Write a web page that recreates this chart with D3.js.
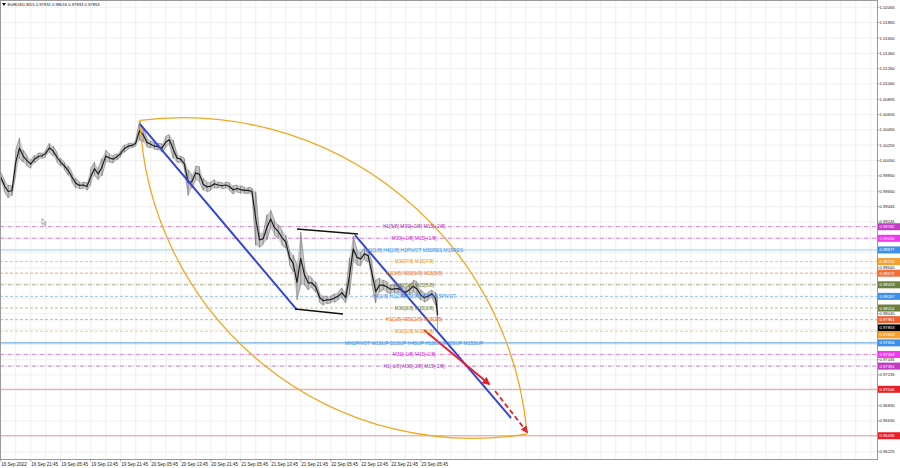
<!DOCTYPE html>
<html><head><meta charset="utf-8">
<script src="https://cdn.jsdelivr.net/npm/d3@7"></script>
<style>body{margin:0;background:#fff}svg{display:block}text{font-family:"Liberation Sans",Arial,sans-serif}</style>
</head><body><svg id="c" width="900" height="468"></svg>
<script>
// ---------- DATA ----------
const title = "EURUSD,M15  0.97931 0.98016 0.97833 0.97853";
const timeLabels = ["16 Sep 2022","16 Sep 21:45","19 Sep 05:45","19 Sep 13:45","19 Sep 21:45","20 Sep 05:45","20 Sep 13:45","20 Sep 21:45","21 Sep 05:45","21 Sep 13:45","21 Sep 21:45","22 Sep 05:45","22 Sep 13:45","22 Sep 21:45","23 Sep 05:45"];
const timeLabelBars = [0,32,64,96,128,160,192,224,256,288,320,352,384,416,448];
const priceTicks = [1.02065,1.01865,1.01660,1.01460,1.01260,1.01060,1.00855,1.00655,1.00455,1.00255,1.00050,0.99850,0.99650,0.99445,0.99245,0.99045,0.98845,0.98640,0.98440,0.98240,0.98040,0.97835,0.97635,0.97435,0.97235,0.97030,0.96830,0.96630,0.96430,0.96225];
const barIdx = d3.range(0, 465, 4).concat([466]);
const highs = [0.9990,0.9980,0.9973,0.9972,1.0019,1.0035,1.0019,1.0012,1.0006,1.0012,
 1.0015,1.0015,1.0019,1.0028,1.0024,1.0016,1.0008,1.0003,0.9998,0.9990,
 0.9982,0.9977,0.9977,0.9976,0.9995,1.0003,0.9995,1.0008,1.0019,1.0014,
 1.0012,1.0014,1.0019,1.0026,1.0028,1.0028,1.0032,1.0057,1.0048,1.0035,
 1.0031,1.0028,1.0028,1.0027,1.0037,1.0039,1.0032,1.0014,1.0011,1.0008,
 0.9993,0.9986,0.9998,0.9997,0.9982,0.9977,0.9977,0.9980,0.9977,0.9976,
 0.9977,0.9976,0.9972,0.9973,0.9972,0.9970,0.9970,0.9969,0.9964,0.9911,
 0.9910,0.9934,0.9940,0.9927,0.9921,0.9914,0.9907,0.9888,0.9881,0.9868,
 0.9911,0.9868,0.9854,0.9851,0.9846,0.9832,0.9827,0.9827,0.9827,0.9830,
 0.9832,0.9838,0.9832,0.9877,0.9906,0.9888,0.9885,0.9890,0.9888,0.9872,
 0.9848,0.9851,0.9848,0.9846,0.9842,0.9842,0.9843,0.9841,0.9838,0.9842,
 0.9848,0.9846,0.9835,0.9831,0.9832,0.9835,0.9832,0.9822];
const lows = [0.9977,0.9964,0.9956,0.9959,0.9986,1.0008,1.0003,0.9998,0.9995,1.0002,
 1.0006,1.0008,1.0010,1.0016,1.0011,1.0003,0.9998,0.9993,0.9986,0.9977,
 0.9969,0.9968,0.9969,0.9966,0.9973,0.9986,0.9980,0.9985,1.0003,1.0003,
 1.0002,1.0006,1.0010,1.0016,1.0020,1.0022,1.0024,1.0032,1.0030,1.0023,
 1.0022,1.0020,1.0019,1.0016,1.0022,1.0026,1.0008,1.0003,1.0003,0.9993,
 0.9959,0.9969,0.9980,0.9977,0.9966,0.9964,0.9966,0.9969,0.9969,0.9968,
 0.9969,0.9966,0.9961,0.9964,0.9962,0.9962,0.9962,0.9960,0.9894,0.9891,
 0.9895,0.9901,0.9917,0.9907,0.9903,0.9894,0.9890,0.9868,0.9859,0.9822,
 0.9842,0.9842,0.9835,0.9838,0.9832,0.9819,0.9815,0.9817,0.9818,0.9819,
 0.9822,0.9825,0.9818,0.9829,0.9872,0.9868,0.9867,0.9875,0.9872,0.9842,
 0.9818,0.9832,0.9835,0.9832,0.9830,0.9831,0.9831,0.9827,0.9826,0.9829,
 0.9832,0.9827,0.9822,0.9819,0.9822,0.9825,0.9815,0.9782];
const lastPrice = 0.97853;

const levelPrices = [0.99182,0.99030,0.98877,0.98724,0.98572,0.98419,0.98267,0.98114,0.97961,0.97809,0.97656,0.97504,0.97351];
const levelKinds  = ["p2","p1","res","o7","o6","g5","piv","g3","o2","o1","sup","m1","m2"];
const levelTexts  = ["H1[5/8] M30[+2/8] M15[+2/8]","M30[+1/8] M15[+1/8]","W1[1/8] H4[2/8] H1PIVOT M30RES M15RES","M30[7/8] M15[7/8]","H1[3/8] M30[6/8] M15[6/8]","M30[5/8] M15[5/8]","H4[1/8] H1[2/8] M30PIVOT M15PIVOT","M30[3/8] M15[3/8]","H1[1/8] M30[2/8] M15[2/8]","M30[1/8] M15[1/8]","MN1PIVOT W1SUP D1SUP H4SUP H1SUP M30SUP M15SUP","M30[-1/8] M15[-1/8]","H1[-1/8] M30[-2/8] M15[-2/8]"];
const textBar = 441;
const redLevels = [0.97046, 0.96436];

// drawn objects: [bar, price] pairs
const arcStart = [148.6, 1.0058], arcEnd = [561.4, 0.9646];
const blueLine1 = [[148.6, 1.0053],[316, 0.9809]];
const blueLine2 = [[377.9, 0.99073],[544.3, 0.96669]];
const blackUpper = [[316, 0.99152],[381.1, 0.99086]];
const blackLower = [[313.9, 0.98101],[365.1, 0.98035]];
const redSolid = [[451.5, 0.97825],[520.9, 0.97115]];
const redDashed = [[527.3, 0.97023],[561.4, 0.96485]];
const cursorAt = [44.0, 0.9929];

// ---------- STYLES ----------
const kindStyle = {
  p2:{line:"#c070c0",box:"#c03cc0",text:"#a83ca8",dash:"4,1.5,1,1.5"},
  p1:{line:"#e070e0",box:"#ec3cec",text:"#d030d0",dash:"4,1.5,1,1.5"},
  res:{line:"#8cc8ec",box:"#3d8fe8",text:"#3d8fe8",dash:null},
  o7:{line:"#f2c070",box:"#f5a030",text:"#e8a030",dash:"3,2"},
  o6:{line:"#f09a70",box:"#f07038",text:"#e87038",dash:"3,2"},
  g5:{line:"#98a878",box:"#6b7f3e",text:"#6b7f3e",dash:"4,1.5,1,1.5"},
  piv:{line:"#90bcec",box:"#3d8fe8",text:"#3d8fe8",dash:"3,2"},
  g3:{line:"#b0bc90",box:"#6b7f3e",text:"#6b7f3e",dash:"3,2"},
  o2:{line:"#f09a70",box:"#f06030",text:"#e86a30",dash:"3,2"},
  o1:{line:"#f2c878",box:"#f5a030",text:"#e8a030",dash:"3,2"},
  sup:{line:"#6eb0e4",box:"#3d8fe8",text:"#3d8fe8",dash:null},
  m1:{line:"#e070e0",box:"#ec3cec",text:"#d030d0",dash:"4,1.5,1,1.5"},
  m2:{line:"#c070c0",box:"#c03cc0",text:"#a83ca8",dash:"4,1.5,1,1.5"}
};

// ---------- CHART ----------
const svg = d3.select("#c");
const W = 877.5, H = 459.5;
const x = d3.scaleLinear().domain([0, 935]).range([0.7, 877.3]);
const y = d3.scaleLinear().domain([0.96225, 1.02065]).range([451.8, 7.3]);

const defs = svg.append("defs");
defs.append("clipPath").attr("id","clip").append("rect").attr("x",0).attr("y",0).attr("width",W).attr("height",H);
defs.append("marker").attr("id","ah").attr("viewBox","0 0 10 10").attr("refX",8).attr("refY",5)
  .attr("markerWidth",4).attr("markerHeight",4).attr("orient","auto")
  .append("path").attr("d","M0,0 L10,5 L0,10 z").attr("fill","#e8202a");

svg.append("rect").attr("width",900).attr("height",468).attr("fill","#fff");
const g = svg.append("g").attr("clip-path","url(#clip)");

// grid
const vgrid = d3.range(16, 935, 16);
g.selectAll(".vg").data(vgrid).join("line")
  .attr("x1",d=>x(d)).attr("x2",d=>x(d)).attr("y1",0).attr("y2",H)
  .attr("stroke","#ececec").attr("stroke-width",0.8);
g.selectAll(".hg").data(priceTicks).join("line")
  .attr("x1",0).attr("x2",W).attr("y1",d=>y(d)).attr("y2",d=>y(d))
  .attr("stroke","#ececec").attr("stroke-width",0.8);

// horizontal levels
g.selectAll(".lvl").data(levelPrices).join("line")
  .attr("x1",0).attr("x2",W).attr("y1",d=>y(d)).attr("y2",d=>y(d))
  .attr("stroke",(d,i)=>kindStyle[levelKinds[i]].line)
  .attr("stroke-width",(d,i)=>levelKinds[i]==="sup"?1.2:0.9)
  .attr("stroke-dasharray",(d,i)=>kindStyle[levelKinds[i]].dash);
g.selectAll(".red").data(redLevels).join("line")
  .attr("x1",0).attr("x2",W).attr("y1",d=>y(d)).attr("y2",d=>y(d))
  .attr("stroke","#f09090").attr("stroke-width",0.9);

// price: grey high-low band + thin bar zigzag + dark mid line
const idx = d3.range(barIdx.length);
g.append("path").datum(idx)
  .attr("d", d3.area().x(i=>x(barIdx[i])).y0(i=>y(lows[i])).y1(i=>y(highs[i])))
  .attr("fill","#b0b0b0").attr("opacity",0.7);
const zig = [];
idx.forEach(i=>{
  const up = i%2===0;
  zig.push([x(barIdx[i]), y(up?lows[i]:highs[i])]);
  zig.push([x(barIdx[i]), y(up?highs[i]:lows[i])]);
});
g.append("path").attr("d", d3.line()(zig))
  .attr("fill","none").attr("stroke","#444").attr("stroke-width",0.5).attr("opacity",0.8);
g.append("path").datum(idx)
  .attr("d", d3.line().x(i=>x(barIdx[i])).y(i=>y((highs[i]+lows[i])/2)))
  .attr("fill","none").attr("stroke","#1c1c1c").attr("stroke-width",1.2).attr("stroke-linejoin","round");

// arcs
function arcPath(p1, p2, sag, sweep){
  const a=[x(p1[0]),y(p1[1])], b=[x(p2[0]),y(p2[1])];
  const c=Math.hypot(b[0]-a[0],b[1]-a[1])/2;
  const R=(c*c+sag*sag)/(2*sag);
  return `M${a[0]},${a[1]} A${R},${R} 0 0 ${sweep} ${b[0]},${b[1]}`;
}
g.append("path").attr("d",arcPath(arcStart,arcEnd,106,1)).attr("fill","none").attr("stroke","#f0a820").attr("stroke-width",1.3);
g.append("path").attr("d",arcPath(arcStart,arcEnd,112,0)).attr("fill","none").attr("stroke","#f0a820").attr("stroke-width",1.3);

const seg = (pts, color, w, dash, marker) => {
  const l = g.append("line")
    .attr("x1",x(pts[0][0])).attr("y1",y(pts[0][1]))
    .attr("x2",x(pts[1][0])).attr("y2",y(pts[1][1]))
    .attr("stroke",color).attr("stroke-width",w);
  if (dash) l.attr("stroke-dasharray",dash);
  if (marker) l.attr("marker-end","url(#ah)");
};
seg(blueLine1,"#3344d8",2);
seg(blueLine2,"#3344d8",2);
seg(blackUpper,"#111",1.5);
seg(blackLower,"#111",1.5);
seg(redSolid,"#e8202a",2,null,true);
seg(redDashed,"#e8202a",1.8,"5,3",true);

// level texts
g.selectAll(".lt").data(levelPrices).join("text")
  .attr("x",x(textBar)).attr("y",d=>y(d)+1.7).attr("text-anchor","middle")
  .attr("font-size",4.9).attr("fill",(d,i)=>kindStyle[levelKinds[i]].text)
  .text((d,i)=>levelTexts[i]);

// mouse pointer
const cx0 = x(cursorAt[0]), cy0 = y(cursorAt[1]);
g.append("path").attr("d",`M${cx0},${cy0} l0,6 l1.5,-1.4 l1.3,2.6 l1,-0.5 l-1.3,-2.5 l2,0 z`)
  .attr("fill","#fff").attr("stroke","#555").attr("stroke-width",0.5);

// frame
svg.append("rect").attr("x",0.5).attr("y",0.5).attr("width",W-0.5).attr("height",H-0.5)
  .attr("fill","none").attr("stroke","#9a9a9a").attr("stroke-width",1);

// title
svg.append("path").attr("d","M2,3 L6,3 L4,6 z").attr("fill","#111");
svg.append("text").attr("x",7.5).attr("y",6.3).attr("font-size",4.2).attr("fill","#111").text(title);

// axis boxes (collision-adjusted positions)
const boxes = levelPrices.map((p,i)=>({p, c:kindStyle[levelKinds[i]].box}))
  .concat(redLevels.map(p=>({p,c:"#e8202a"})))
  .concat([{p:lastPrice,c:"#000"}])
  .map(b=>({...b, yy:y(b.p)}))
  .sort((a,b)=>a.yy-b.yy);
for (let i=1;i<boxes.length;i++) if (boxes[i].yy-boxes[i-1].yy<7) boxes[i].yy=boxes[i-1].yy+7;

// y axis ticks (skip those hidden under boxes)
const visTicks = priceTicks.filter(t=>boxes.every(b=>Math.abs(y(t)-b.yy)>4.5));
const ya = svg.append("g");
ya.selectAll("line").data(priceTicks).join("line")
  .attr("x1",W).attr("x2",W+2).attr("y1",d=>y(d)).attr("y2",d=>y(d)).attr("stroke","#777").attr("stroke-width",0.6);
ya.selectAll("text").data(visTicks).join("text")
  .attr("x",879.5).attr("y",d=>y(d)+1.5).attr("font-size",4.2).attr("fill","#222")
  .text(d=>d.toFixed(5));

const bg = svg.append("g").selectAll("g").data(boxes).join("g");
bg.append("rect").attr("x",878).attr("y",d=>d.yy-3.5).attr("width",22).attr("height",7).attr("fill",d=>d.c);
bg.append("text").attr("x",879.5).attr("y",d=>d.yy+1.5).attr("font-size",4.2).attr("fill","#fff").text(d=>d.p.toFixed(5));

// x axis
svg.selectAll(".xt").data(timeLabelBars).join("text")
  .attr("x",(d)=>x(d)+0.5).attr("y",465.8).attr("font-size",4.5).attr("fill","#222")
  .text((d,i)=>timeLabels[i]);
svg.selectAll(".xtk").data(timeLabelBars).join("line")
  .attr("x1",d=>x(d)).attr("x2",d=>x(d)).attr("y1",H).attr("y2",H+2).attr("stroke","#777").attr("stroke-width",0.6);
</script></body></html>
